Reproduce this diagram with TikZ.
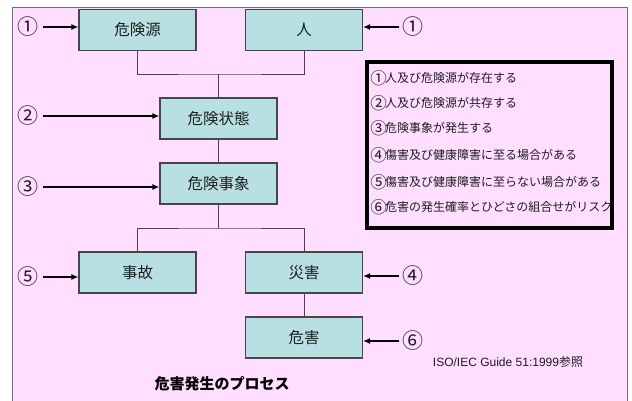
\documentclass[tikz,border=0pt]{standalone}
\usepackage{fontspec}
\setmainfont{Liberation Sans}
\newfontfamily\cjk{Noto Sans CJK JP}
\usetikzlibrary{arrows.meta}
\definecolor{bgpink}{RGB}{255,222,255}
\definecolor{boxfill}{RGB}{184,224,226}
\definecolor{boxline}{RGB}{70,70,70}
\definecolor{framegray}{RGB}{110,110,110}
\definecolor{txt}{RGB}{30,30,30}
\newcommand{\lnum}[1]{\makebox[13pt][c]{\raisebox{-1.3pt}{\fontsize{16.5}{14}\selectfont #1}}}
\begin{document}
\begin{tikzpicture}[x=1pt,y=-1pt,
  stagebox/.style={draw=boxline, fill=boxfill, line width=1.1pt, minimum width=117pt, minimum height=41pt, inner sep=0pt, text=txt, font=\cjk\fontsize{15.5}{18}\selectfont},
  numlabel/.style={inner sep=0pt, text=txt, font=\cjk\fontsize{21}{22}\selectfont},
  arr/.style={line width=1.6pt, -{Latex[length=7pt,width=6pt]}},
  conn/.style={line width=0.9pt, draw=boxline},
  legendline/.style={anchor=west, inner sep=0pt, text=txt, font=\cjk\fontsize{12}{14}\selectfont},
  legendbox/.style={draw=black, line width=3.2pt, fill=bgpink, inner sep=0pt}
]
\useasboundingbox (0,0) rectangle (632,401);
\fill[white] (0,0) rectangle (632,401);
\draw[framegray, fill=bgpink, line width=0.8pt] (12,7) rectangle (627,410);

% stage boxes
\node[stagebox] (src)   at (137.5,30)   {危険源};
\node[stagebox] (hum)   at (304,30)     {人};
\node[stagebox] (state) at (218.5,118.5){危険状態};
\node[stagebox] (event) at (218.5,183.5){危険事象};
\node[stagebox] (acc)   at (137.5,272.5){事故};
\node[stagebox] (dis)   at (304,272.5)  {災害};
\node[stagebox] (harm)  at (304,337.5)  {危害};

% connectors
\coordinate (j1) at (218.5,74);
\coordinate (j2) at (218.5,228);
\draw[conn] (src.south) |- (j1) -| (hum.south);
\draw[conn] (j1) -- (state.north);
\draw[conn] (state.south) -- (event.north);
\draw[conn] (event.south) -- (j2);
\draw[conn] (acc.north) |- (j2) -| (dis.north);
\draw[conn] (dis.south) -- (harm.north);

% numbered arrows (left)
\node[numlabel] (n1a) at (28,27)  {①};
\node[numlabel] (n2)  at (28,116) {②};
\node[numlabel] (n3)  at (28,187) {③};
\node[numlabel] (n5)  at (28,277) {⑤};
\draw[arr, shorten <=4.5pt] (n1a.east) -- (src.west |- n1a.east);
\draw[arr, shorten <=4.5pt] (n2.east)  -- (state.west |- n2.east);
\draw[arr, shorten <=4.5pt] (n3.east)  -- (event.west |- n3.east);
\draw[arr, shorten <=4.5pt] (n5.east)  -- (acc.west |- n5.east);

% numbered arrows (right)
\node[numlabel] (n1b) at (413,27)  {①};
\node[numlabel] (n4)  at (413,276) {④};
\node[numlabel] (n6)  at (413,341) {⑥};
\draw[arr, shorten <=3pt] (n1b.west) -- (hum.east |- n1b.west);
\draw[arr, shorten <=3pt] (n4.west)  -- (dis.east |- n4.west);
\draw[arr, shorten <=3pt] (n6.west)  -- (harm.east |- n6.west);

% legend
\node[legendbox, minimum width=245pt, minimum height=166pt] (legend) at (489.5,145) {};
\node[legendline] (l1) at (372,78)  {\lnum{①}人及び危険源が存在する};
\node[legendline] (l2) at (372,103) {\lnum{②}人及び危険源が共存する};
\node[legendline] (l3) at (372,128) {\lnum{③}危険事象が発生する};
\node[legendline] (l4) at (372,155) {\lnum{④}傷害及び健康障害に至る場合がある};
\node[legendline] (l5) at (372,182) {\lnum{⑤}傷害及び健康障害に至らない場合がある};
\node[legendline] (l6) at (372,207) {\lnum{⑥}危害の発生確率とひどさの組合せがリスク};

% captions
\node[inner sep=0pt, text=txt, font=\fontsize{12}{14}\selectfont] (ref) at (508,362) {ISO/IEC Guide 51:1999{\cjk 参照}};
\node[inner sep=0pt, text=black, font=\cjk\bfseries\fontsize{15}{17}\selectfont] (title) at (222,384) {危害発生のプロセス};
\end{tikzpicture}
\end{document}
